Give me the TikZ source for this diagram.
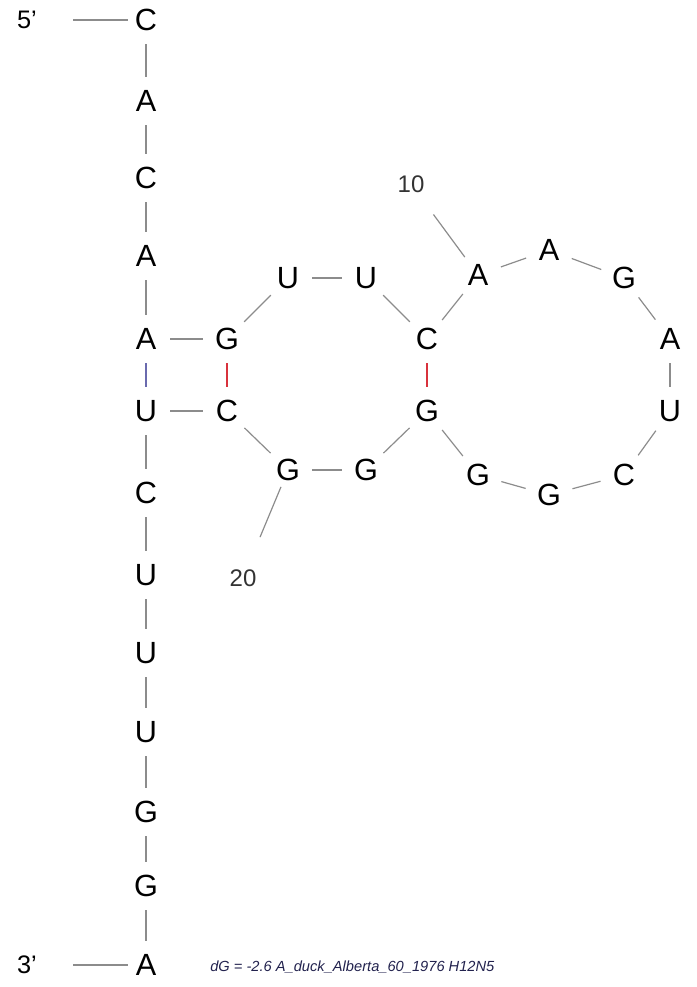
\documentclass[tikz,border=0pt]{standalone}
\usepackage{fontspec}
\setmainfont{Liberation Sans}
\definecolor{bbgray}{HTML}{8C8C8C}
\definecolor{gcred}{HTML}{D8323C}
\definecolor{aublue}{HTML}{6A6AAE}
\definecolor{capnavy}{HTML}{22224E}

\tikzset{
  nt/.style={circle, minimum size=36pt, inner sep=0pt, font=\fontsize{23}{23}\selectfont},
  bb/.style={bbgray, line width=0.9pt},
  gcpair/.style={gcred, line width=0.9pt},
  aupair/.style={aublue, line width=0.9pt},
  numlab/.style={inner sep=1pt, text=black!80, font=\fontsize{18}{18}\selectfont},
  endlab/.style={inner sep=1pt, font=\fontsize{19}{19}\selectfont}
}

\begin{document}
\begin{tikzpicture}[x=0.75pt, y=-0.75pt]

% Page frame in pixel units (696 x 987)
\useasboundingbox (0,0) rectangle (696,987);

% Nucleotides 5' -> 3': id/base/x/y
\foreach \id/\b/\px/\py in {
  1/C/146/20, 2/A/146/101, 3/C/146/178, 4/A/146/256, 5/A/146/339,
  6/G/227/339, 7/U/288/278, 8/U/366/278, 9/C/427/339,
  10/A/478/275, 11/A/549/250, 12/G/624/278, 13/A/670/339, 14/U/670/411,
  15/C/624/475, 16/G/549/495, 17/G/478/475, 18/G/427/411,
  19/G/366/470, 20/G/288/470, 21/C/227/411,
  22/U/146/411, 23/C/146/493, 24/U/146/575, 25/U/146/653, 26/U/146/732,
  27/G/146/812, 28/G/146/886, 29/A/146/965}
  \node[nt] (n\id) at (\px,\py) {\b};

% Backbone
\foreach \i [evaluate=\i as \j using int(\i+1)] in {1,...,28}
  \draw[bb] (n\i) -- (n\j);

% Base pairs
\draw[aupair] (n5) -- (n22);
\draw[gcpair] (n6) -- (n21);
\draw[gcpair] (n9) -- (n18);

% Strand ends
\node[endlab] (p5) at (27,20) {5'};
\node[endlab] (p3) at (27,965) {3'};
\coordinate (e5) at (73,20);
\coordinate (e3) at (73,965);
\draw[bb, shorten >=-4.5pt] (e5) -- (n1);
\draw[bb, shorten >=-4.5pt] (e3) -- (n29);

% Position numbers
\node[numlab] (lab10) at (411,184) {10};
\node[numlab] (lab20) at (243,578) {20};
\draw[bb, shorten <=-1.5pt, shorten >=19pt] (n10) -- (lab10);
\draw[bb, shorten <=-4.5pt, shorten >=25pt] (n20) -- (lab20);

% Caption
\node[anchor=west, inner sep=0pt, text=capnavy, font=\fontsize{11}{11}\selectfont\itshape]
  (cap) at (210,967) {dG = -2.6 A\_duck\_Alberta\_60\_1976 H12N5};

\end{tikzpicture}
\end{document}
